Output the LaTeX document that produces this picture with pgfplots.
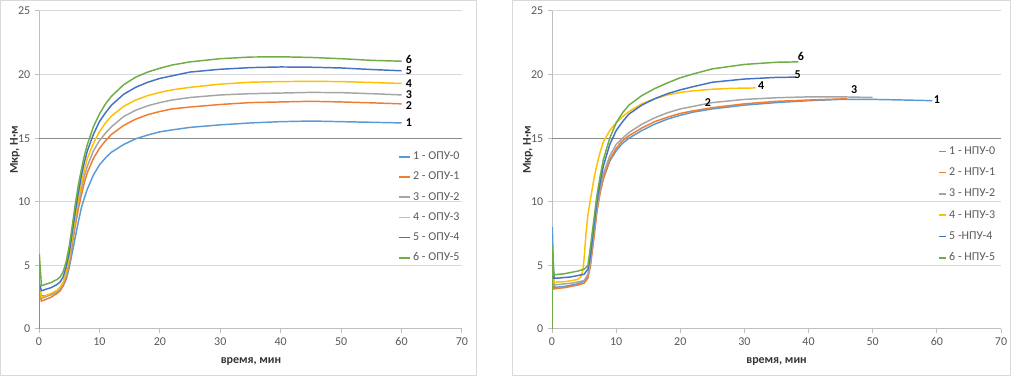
\documentclass[border=0pt]{standalone}
\usepackage{fontspec}
\setmainfont{Carlito}
\usepackage{pgfplots}
\pgfplotsset{compat=1.18}
\definecolor{sA}{HTML}{5B9BD5}
\definecolor{sB}{HTML}{ED7D31}
\definecolor{sC}{HTML}{A5A5A5}
\definecolor{sD}{HTML}{FFC000}
\definecolor{sE}{HTML}{4472C4}
\definecolor{sF}{HTML}{70AD47}
\definecolor{axisgray}{HTML}{BFBFBF}
\definecolor{gridgray}{HTML}{D9D9D9}
\definecolor{darkgrid}{HTML}{8C8C8C}
\definecolor{labelgray}{HTML}{595959}
\definecolor{panelgray}{HTML}{D9D9D9}
\tikzset{lab/.style={font=\bfseries\fontsize{9}{11}\selectfont, text=black, inner sep=0pt}}
\pgfplotsset{
  excelax/.style={
    scale only axis, height=238.5pt,
    xmin=0, xmax=70, ymin=0, ymax=25,
    xtick={0,10,...,70}, ytick={0,5,...,25},
    axis x line=bottom, axis y line=left,
    axis line style={-, draw=axisgray, line width=0.75pt},
    tick align=outside, major tick length=3pt,
    tick style={draw=axisgray, line width=0.75pt},
    ymajorgrids, grid style={draw=gridgray, line width=0.75pt},
    extra y ticks={15}, extra y tick labels={},
    extra y tick style={grid style={draw=darkgrid, line width=0.75pt}},
    ticklabel style={font=\fontsize{9}{11}\selectfont, text=labelgray},
    /pgf/number format/assume math mode=true,
    every axis plot/.append style={line width=1.1pt, no marks},
    legend style={draw=none, fill=none, font=\fontsize{9}{11}\selectfont,
      text=labelgray, row sep=3.8pt, inner sep=0pt, cells={anchor=west}},
    legend cell align=left,
  },
}
\begin{document}
\begin{tikzpicture}
\path[use as bounding box] (0,0) rectangle (762.75pt,282.75pt);
\draw[panelgray, line width=0.75pt] (0.4pt,0.75pt) rectangle (357pt,282pt);
\draw[panelgray, line width=0.75pt] (384pt,0.75pt) rectangle (757.5pt,282pt);
% ---------------- left chart ----------------
\begin{axis}[excelax, width=317.25pt, at={(29.25pt,36pt)}, anchor=south west,
  legend style={at={(rel axis cs:0.849,0.566)}, anchor=north west},
  legend image code/.code={\draw[#1] (0pt,0pt) -- (8pt,0pt);}]
\addplot[sA] coordinates {(0,0)(0.05,3.2)(0.4,2.6)(1,2.6)(2,2.7)(3,2.9)(3.5,3.1)(4,3.4)(4.5,3.9)(5,4.8)(5.5,6.0)(6,7.2)(6.5,8.4)(7,9.5)(7.5,10.3)(8,11.0)(9,12.1)(10,12.9)(11,13.45)(12,13.9)(14,14.5)(16,14.95)(18,15.25)(20,15.5)(22,15.65)(25,15.85)(30,16.05)(35,16.2)(40,16.3)(45,16.35)(50,16.3)(55,16.25)(60,16.2)};
\addlegendentry{1 - ОПУ-0}
\addplot[sB] coordinates {(0,0)(0.05,2.8)(0.4,2.2)(1,2.3)(2,2.5)(3,2.8)(3.5,3.0)(4,3.4)(4.5,4.1)(5,5.1)(5.5,6.6)(6,8.1)(6.5,9.4)(7,10.5)(7.5,11.5)(8,12.3)(9,13.4)(10,14.2)(11,14.8)(12,15.3)(14,16.0)(16,16.5)(18,16.85)(20,17.1)(22,17.3)(25,17.45)(30,17.65)(35,17.8)(40,17.85)(45,17.9)(50,17.85)(55,17.78)(60,17.7)};
\addlegendentry{2 - ОПУ-1}
\addplot[sC] coordinates {(0,0)(0.05,3.0)(0.4,2.4)(1,2.5)(2,2.7)(3,2.95)(3.5,3.2)(4,3.6)(4.5,4.3)(5,5.4)(5.5,6.9)(6,8.5)(6.5,9.8)(7,11.0)(7.5,12.0)(8,12.8)(9,14.0)(10,14.8)(11,15.4)(12,15.9)(14,16.7)(16,17.2)(18,17.55)(20,17.8)(22,18.0)(25,18.2)(30,18.4)(35,18.5)(40,18.55)(45,18.6)(50,18.58)(55,18.5)(60,18.4)};
\addlegendentry{3 - ОПУ-2}
\addplot[sD] coordinates {(0,0)(0.05,3.2)(0.4,2.5)(1,2.6)(2,2.8)(3,3.05)(3.5,3.3)(4,3.7)(4.5,4.5)(5,5.6)(5.5,7.2)(6,8.8)(6.5,10.2)(7,11.4)(7.5,12.5)(8,13.4)(9,14.6)(10,15.5)(11,16.2)(12,16.75)(14,17.5)(16,18.0)(18,18.35)(20,18.6)(22,18.8)(25,19.0)(30,19.25)(35,19.4)(40,19.45)(45,19.47)(50,19.45)(55,19.38)(60,19.3)};
\addlegendentry{4 - ОПУ-3}
\addplot[sE] coordinates {(0,0)(0.05,3.6)(0.4,3.0)(1,3.1)(2,3.25)(3,3.5)(3.5,3.7)(4,4.1)(4.5,4.9)(5,6.0)(5.5,7.6)(6,9.2)(6.5,10.7)(7,12.0)(7.5,13.1)(8,14.0)(9,15.3)(10,16.3)(11,17.0)(12,17.6)(14,18.45)(16,19.0)(18,19.4)(20,19.7)(22,19.9)(25,20.2)(30,20.42)(35,20.55)(40,20.6)(45,20.58)(50,20.52)(55,20.4)(60,20.3)};
\addlegendentry{5 - ОПУ-4}
\addplot[sF] coordinates {(0,0)(0.05,5.9)(0.4,3.4)(1,3.5)(2,3.65)(3,3.9)(3.5,4.1)(4,4.5)(4.5,5.3)(5,6.5)(5.5,8.1)(6,9.8)(6.5,11.3)(7,12.5)(7.5,13.6)(8,14.5)(9,15.9)(10,16.9)(11,17.7)(12,18.3)(14,19.2)(16,19.8)(18,20.2)(20,20.5)(22,20.75)(25,21.0)(30,21.25)(35,21.38)(40,21.4)(45,21.35)(50,21.25)(55,21.12)(60,21.05)};
\addlegendentry{6 - ОПУ-5}
\node[lab] at (axis cs:61.2,16.2) {1};
\node[lab] at (axis cs:61.2,17.6) {2};
\node[lab] at (axis cs:61.2,18.4) {3};
\node[lab] at (axis cs:61.2,19.3) {4};
\node[lab] at (axis cs:61.2,20.3) {5};
\node[lab] at (axis cs:61.2,21.2) {6};
\end{axis}
% ---------------- right chart ----------------
\begin{axis}[excelax, width=336.75pt, at={(414pt,36pt)}, anchor=south west,
  legend style={at={(rel axis cs:0.860,0.583)}, anchor=north west, row sep=4.6pt},
  legend image code/.code={\draw[#1] (0pt,0pt) -- (5pt,0pt);}]
\addplot[sA] coordinates {(0,0)(0.05,8.0)(0.3,3.3)(1,3.3)(2,3.35)(3,3.45)(4,3.55)(5,3.75)(5.6,4.1)(6,5.2)(6.5,7.2)(7,9.4)(7.5,10.8)(8,11.8)(9,13.2)(10,14.0)(11,14.6)(12,15.0)(14,15.6)(16,16.1)(18,16.5)(20,16.8)(22,17.05)(25,17.3)(30,17.6)(35,17.8)(40,17.95)(45,18.05)(50,18.05)(55,18.0)(59.3,17.95)};
\addlegendentry{1 - НПУ-0}
\addplot[sB] coordinates {(0,0)(0.05,6.0)(0.3,3.15)(1,3.2)(2,3.25)(3,3.35)(4,3.45)(5,3.6)(5.6,4.0)(6,5.0)(6.5,7.0)(7,9.2)(7.5,10.7)(8,11.8)(9,13.3)(10,14.2)(11,14.8)(12,15.2)(14,15.8)(16,16.3)(18,16.65)(20,16.95)(22,17.15)(25,17.4)(30,17.7)(35,17.9)(40,18.0)(46,18.1)};
\addlegendentry{2 - НПУ-1}
\addplot[sC] coordinates {(0,0)(0.05,6.0)(0.3,3.45)(1,3.5)(2,3.55)(3,3.6)(4,3.7)(5,3.8)(5.6,4.3)(6,5.3)(6.5,7.5)(7,9.5)(7.5,11.0)(8,12.2)(9,13.6)(10,14.5)(11,15.0)(12,15.45)(14,16.1)(16,16.6)(18,17.0)(20,17.3)(22,17.5)(25,17.8)(30,18.05)(35,18.18)(40,18.25)(45,18.25)(50,18.2)};
\addlegendentry{3 - НПУ-2}
\addplot[sD] coordinates {(0,0)(0.05,6.0)(0.3,3.65)(1,3.7)(2,3.72)(3,3.8)(4,3.9)(4.5,4.1)(4.8,4.6)(5,5.5)(5.3,7.5)(5.6,9.0)(6,10.2)(6.5,11.7)(7,12.9)(7.5,13.9)(8,14.7)(9,15.6)(10,16.2)(11,16.7)(12,17.1)(14,17.7)(16,18.1)(18,18.4)(20,18.6)(22,18.72)(25,18.85)(28,18.92)(31.7,18.95)};
\addlegendentry{4 - НПУ-3}
\addplot[sE] coordinates {(0,0)(0.05,6.0)(0.3,4.0)(1,4.0)(2,4.05)(3,4.1)(4,4.2)(5,4.3)(5.6,4.7)(6,5.8)(6.5,8.0)(7,10.0)(7.5,11.5)(8,12.8)(9,14.5)(10,15.6)(11,16.3)(12,16.9)(14,17.6)(16,18.1)(18,18.5)(20,18.8)(22,19.05)(25,19.4)(30,19.65)(35,19.78)(38,19.8)};
\addlegendentry{5 -НПУ-4}
\addplot[sF] coordinates {(0,0)(0.05,6.5)(0.3,4.25)(1,4.3)(2,4.35)(3,4.45)(4,4.55)(5,4.7)(5.6,5.0)(6,6.5)(6.5,8.5)(7,10.5)(7.5,12.0)(8,13.3)(9,15.0)(10,16.2)(11,17.0)(12,17.6)(14,18.35)(16,18.9)(18,19.35)(20,19.75)(22,20.05)(25,20.45)(30,20.8)(35,20.97)(38.4,21.0)};
\addlegendentry{6 - НПУ-5}
\node[lab] at (axis cs:60.0,18.05) {1};
\node[lab] at (axis cs:24.3,17.8) {2};
\node[lab] at (axis cs:47.1,18.8) {3};
\node[lab] at (axis cs:32.6,19.1) {4};
\node[lab] at (axis cs:38.3,20.0) {5};
\node[lab] at (axis cs:38.8,21.4) {6};
\end{axis}
% axis titles
\node[rotate=90, font=\bfseries\fontsize{9}{11}\selectfont, text=labelgray!60!black] at (11.25pt,170.25pt) {Мкр, Н·м};
\node[rotate=90, font=\bfseries\fontsize{9}{11}\selectfont, text=labelgray!60!black] at (396pt,170.25pt) {Мкр, Н·м};
\node[font=\bfseries\fontsize{9}{11}\selectfont, text=labelgray!60!black] at (188.25pt,12pt) {время, мин};
\node[font=\bfseries\fontsize{9}{11}\selectfont, text=labelgray!60!black] at (582.4pt,12pt) {время, мин};
\end{tikzpicture}
\end{document}
